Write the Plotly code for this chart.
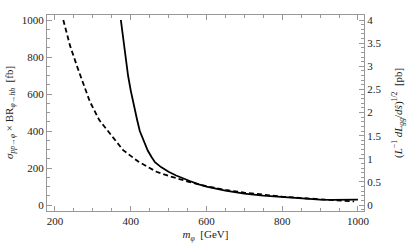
import plotly.graph_objects as go

# Solid curve: sigma x BR (fb)
m_solid = [374, 380, 387, 393, 400, 405, 417, 424, 433, 445, 455, 464, 480, 500, 520, 540, 556, 580, 600, 650, 700, 750, 800, 850, 900, 930, 960, 1000]
v_solid = [1000, 900, 800, 700, 620, 568, 460, 400, 351, 295, 260, 232, 205, 180, 160, 142, 130, 112, 100, 78, 62, 51, 43, 36, 30, 28, 28, 30]

# Dashed curve: luminosity (scaled to left axis, 1 pb on right = 250 on left)
m_dash = [222, 240, 260, 280, 292, 317, 345, 380, 420, 468, 500, 556, 600, 650, 700, 750, 800, 850, 900, 950, 990]
v_dash = [1000, 860, 740, 620, 560, 459, 389, 297, 235, 180, 158, 124, 102, 82, 67, 55, 46, 38, 31, 24, 20]

x_ticks = [200, 400, 600, 800, 1000]
y_ticks = [0, 200, 400, 600, 800, 1000]
y2_ticks = [0, 0.5, 1, 1.5, 2, 2.5, 3, 3.5, 4]
y2_labels = ["0", "0.5", "1", "1.5", "2", "2.5", "3", "3.5", "4"]

FONT = "Liberation Serif, Times New Roman, serif"
FRAME = "#999999"
W, H = 407, 247
L, R, T, B = 47, 43, 15, 36

fig = go.Figure()
fig.add_trace(go.Scatter(x=m_solid, y=v_solid, mode="lines",
                         line=dict(color="black", width=1.8), showlegend=False))
fig.add_trace(go.Scatter(x=m_dash, y=v_dash, mode="lines",
                         line=dict(color="black", width=1.8, dash="5px,3px"), showlegend=False))
# invisible trace to activate y2
fig.add_trace(go.Scatter(x=[m_dash[0]], y=[v_dash[0] / 250], yaxis="y2", mode="lines",
                         line=dict(color="rgba(0,0,0,0)"), showlegend=False, hoverinfo="skip"))

ylo, yhi = -32, 1027
pw = W - L - R
fig.update_layout(
    width=W, height=H,
    margin=dict(l=L, r=R, t=T, b=B, autoexpand=False),
    paper_bgcolor="white", plot_bgcolor="white",
    font=dict(family=FONT, size=11, color="#222222"),
    xaxis=dict(range=[179, 1016], tickvals=x_ticks, ticks="inside", ticklen=5,
               tickcolor=FRAME, showline=True, linecolor=FRAME, linewidth=1, mirror="ticks",
               showgrid=False, zeroline=False, automargin=False,
               minor=dict(dtick=50, ticks="inside", ticklen=3, tickcolor=FRAME, showgrid=False),
               title=dict(text="<i>m</i><sub><i>φ</i></sub>  [GeV]", standoff=4, font=dict(size=11))),
    yaxis=dict(range=[ylo, yhi], tickvals=y_ticks, ticks="inside", ticklen=5,
               tickcolor=FRAME, showline=True, linecolor=FRAME, linewidth=1,
               showgrid=False, zeroline=False, automargin=False,
               minor=dict(dtick=50, ticks="inside", ticklen=3, tickcolor=FRAME, showgrid=False)),
    yaxis2=dict(overlaying="y", side="right", range=[ylo / 250, yhi / 250],
                tickvals=y2_ticks, ticktext=y2_labels, ticks="inside", ticklen=5,
                tickcolor=FRAME, showline=True, linecolor=FRAME, linewidth=1,
                showgrid=False, zeroline=False, automargin=False,
                minor=dict(dtick=0.1, ticks="inside", ticklen=3, tickcolor=FRAME, showgrid=False)),
    annotations=[
        dict(text="<i>σ</i><sub><i>pp</i>→<i>φ</i></sub> × BR<sub><i>φ</i>→<i>hh</i></sub>  [fb]",
             xref="paper", yref="paper", x=(10 - L) / pw, y=0.5, textangle=-90,
             showarrow=False, xanchor="center", yanchor="middle", font=dict(size=11)),
        dict(text="(<i>L</i><sup>−1</sup> <i>d</i><i>L</i><sub><i>gg</i></sub>/<i>d</i><i>ŝ</i>)<sup>1/2</sup>  [pb]",
             xref="paper", yref="paper", x=(398 - L) / pw, y=0.5, textangle=-90,
             showarrow=False, xanchor="center", yanchor="middle", font=dict(size=11)),
    ],
)

fig.write_html("out.html", config={"displayModeBar": False},
               post_script="document.body.style.margin='0';document.body.style.overflow='hidden';")
